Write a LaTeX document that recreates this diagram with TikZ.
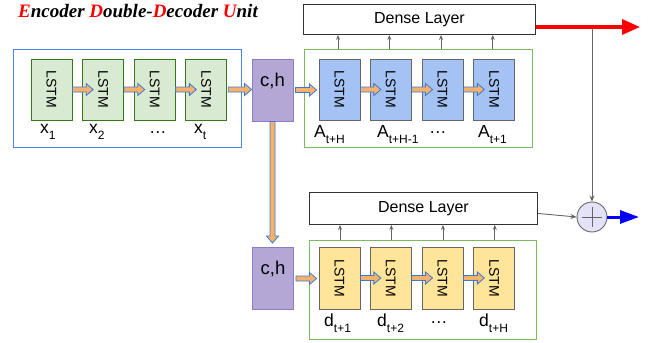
\documentclass[tikz,border=0pt]{standalone}
\usepackage{fontspec}
\setmainfont{Liberation Sans}
\newfontfamily\titlefont{Liberation Serif}
\usetikzlibrary{arrows.meta,calc}
\definecolor{encframe}{HTML}{4A86E8}
\definecolor{decframe}{HTML}{7DBA5F}
\definecolor{gfill}{HTML}{D9EAD3}
\definecolor{gdraw}{HTML}{38761D}
\definecolor{bfill}{HTML}{A4C2F4}
\definecolor{yfill}{HTML}{FFE599}
\definecolor{pfill}{HTML}{B4A7D6}
\definecolor{pdraw}{HTML}{8E7CC3}
\definecolor{arrfill}{HTML}{F6B26B}
\definecolor{arrdraw}{HTML}{3C78D8}
\definecolor{boxgray}{HTML}{666666}
\definecolor{pluscol}{HTML}{E4E2F6}
\newcommand{\fatR}[2]{%
  \draw[fatarrow] let \p1=(#1), \p2=(#2) in
    (\x1,\y1+2.5pt) -- (\x2-7pt,\y1+2.5pt) -- (\x2-7pt,\y1+6pt) -- (\x2,\y1)
    -- (\x2-7pt,\y1-6pt) -- (\x2-7pt,\y1-2.5pt) -- (\x1,\y1-2.5pt) -- cycle;}
\newcommand{\fatD}[2]{%
  \draw[fatarrow] let \p1=(#1), \p2=(#2) in
    (\x1+2.5pt,\y1) -- (\x1+2.5pt,\y2+7pt) -- (\x1+6pt,\y2+7pt) -- (\x1,\y2)
    -- (\x1-6pt,\y2+7pt) -- (\x1-2.5pt,\y2+7pt) -- (\x1-2.5pt,\y1) -- cycle;}
\newcommand{\lstmtext}{\rotatebox{-90}{\fontsize{14}{14}\selectfont LSTM}}
\newcommand{\sub}[1]{\raisebox{-6pt}{\fontsize{12}{12}\selectfont #1}}
\begin{document}
\begin{tikzpicture}[x=1pt,y=-1pt,
  framebox/.style={draw=#1, line width=1.1pt, inner sep=0pt},
  lstmbox/.style={draw=#1, line width=0.9pt, minimum width=41pt, minimum height=61pt, inner sep=0pt},
  chbox/.style={draw=pdraw, fill=pfill, line width=0.9pt, minimum width=41pt, minimum height=62pt, inner sep=0pt},
  densebox/.style={draw=black!80, line width=0.9pt, inner sep=0pt, font=\fontsize{16}{16}\selectfont},
  lbl/.style={anchor=base west, inner sep=0pt, font=\fontsize{17.5}{17.5}\selectfont},
  fatarrow/.style={draw=arrdraw, fill=arrfill, line width=0.8pt, line join=miter},
  smallarr/.style={draw=boxgray, line width=0.8pt, -{Stealth[length=5pt,width=4pt]}},
  grayarr/.style={draw=boxgray, line width=0.9pt, -{Stealth[length=6pt,width=5pt]}},
]
\useasboundingbox (0,0) rectangle (654,343);

% title
\node[anchor=base west, inner sep=0pt, font=\titlefont\bfseries\itshape\fontsize{19}{19}\selectfont] (title) at (18,17)
  {{\color{red}E}ncoder {\color{red}D}ouble-{\color{red}D}ecoder {\color{red}U}nit};

% frames
\node[framebox=encframe, minimum width=228pt, minimum height=98pt, anchor=north west] (enc) at (13,49) {};
\node[framebox=decframe, minimum width=228pt, minimum height=98pt, anchor=north west] (dec1) at (304,49) {};
\node[framebox=decframe, minimum width=227pt, minimum height=99pt, anchor=north west] (dec2) at (309,240) {};

% dense layers
\node[densebox, minimum width=232pt, minimum height=30pt, anchor=north west] (dense1) at (303,4) {Dense Layer};
\node[densebox, minimum width=228pt, minimum height=32pt, anchor=north west] (dense2) at (309,192) {Dense Layer};

% encoder LSTMs
\node[lstmbox=gdraw, fill=gfill] (e1) at (51.5,89.5) {\lstmtext};
\node[lstmbox=gdraw, fill=gfill] (e2) at (103.1,89.5) {\lstmtext};
\node[lstmbox=gdraw, fill=gfill] (e3) at (154.7,89.5) {\lstmtext};
\node[lstmbox=gdraw, fill=gfill] (e4) at (206.3,89.5) {\lstmtext};

% decoder 1 LSTMs
\node[lstmbox=boxgray, fill=bfill] (a1) at (339.5,89.5) {\lstmtext};
\node[lstmbox=boxgray, fill=bfill] (a2) at (390.8,89.5) {\lstmtext};
\node[lstmbox=boxgray, fill=bfill] (a3) at (442.5,89.5) {\lstmtext};
\node[lstmbox=boxgray, fill=bfill] (a4) at (494.3,89.5) {\lstmtext};

% decoder 2 LSTMs
\node[lstmbox=boxgray, fill=yfill, minimum height=62pt] (d1) at (339.5,278) {\lstmtext};
\node[lstmbox=boxgray, fill=yfill, minimum height=62pt] (d2) at (390.8,278) {\lstmtext};
\node[lstmbox=boxgray, fill=yfill, minimum height=62pt] (d3) at (442.5,278) {\lstmtext};
\node[lstmbox=boxgray, fill=yfill, minimum height=62pt] (d4) at (494.3,278) {\lstmtext};

% c,h boxes
\node[chbox] (ch1) at (272.5,90) {};
\node[font=\fontsize{18.5}{18.5}\selectfont, inner sep=0pt] (ch1t) at (272.5,81) {c,h};
\node[chbox] (ch2) at (273,278.5) {};
\node[font=\fontsize{18.5}{18.5}\selectfont, inner sep=0pt] (ch2t) at (273,269) {c,h};

% labels
\node[lbl] (lx1) at (40,133) {x\sub{1}};
\node[lbl] (lx2) at (89,133) {x\sub{2}};
\node[lbl] (lx3) at (149,133) {\dots};
\node[lbl] (lx4) at (194,133) {x\sub{t}};
\node[lbl] (la1) at (314,137) {A\sub{t+H}};
\node[lbl] (la2) at (377,137) {A\sub{t+H-1}};
\node[lbl] (la3) at (429,133) {\dots};
\node[lbl] (la4) at (478,137) {A\sub{t+1}};
\node[lbl] (ld1) at (324,326) {d\sub{t+1}};
\node[lbl] (ld2) at (377,326) {d\sub{t+2}};
\node[lbl] (ld3) at (430,323) {\dots};
\node[lbl] (ld4) at (479,326) {d\sub{t+H}};

% fat arrows
\fatR{e1.east}{$(e2.west)+(11,0)$}
\fatR{e2.east}{$(e3.west)+(11,0)$}
\fatR{e3.east}{$(e4.west)+(11,0)$}
\fatR{$(e4.east)+(1,0)$}{ch1.west}
\fatR{$(ch1.east)+(2,0)$}{$(a1.west)+(-2,0)$}
\fatR{a1.east}{$(a2.west)+(11,0)$}
\fatR{a2.east}{$(a3.west)+(11,0)$}
\fatR{a3.east}{$(a4.west)+(11,0)$}
\fatR{$(ch2.east)+(2,0)$}{$(d1.west)+(-2,0)$}
\fatR{d1.east}{$(d2.west)+(11,0)$}
\fatR{d2.east}{$(d3.west)+(11,0)$}
\fatR{d3.east}{$(d4.west)+(11,0)$}
\fatD{ch1.south}{$(ch2.north)+(0,-4)$}

% small arrows to dense layers
\foreach \n in {a1,a2,a3,a4} {
  \draw[smallarr] ($(\n |- dec1.north)+(-1.5,0)$) -- ($(\n |- dense1.south)+(-1.5,0)$);
}
\foreach \n in {d1,d2,d3,d4} {
  \draw[smallarr] ($(\n |- dec2.north)+(0.5,0)$) -- ($(\n |- dense2.south)+(0.5,0)$);
}

% plus node
\node[circle, draw=boxgray, fill=pluscol, line width=0.9pt, minimum size=30pt, inner sep=0pt,
  path picture={\draw[boxgray, line width=0.9pt] ($(path picture bounding box.center)+(-10,0)$) -- ($(path picture bounding box.center)+(10,0)$)
     ($(path picture bounding box.center)+(0,-10)$) -- ($(path picture bounding box.center)+(0,10)$);}] (plus) at (592,217) {};

% outputs
\coordinate (redstart) at (dense1.east |- 0,27);
\coordinate (redend) at (640,27);
\coordinate (tap) at (plus.north |- 0,27);
\coordinate (blueend) at (639,217);
\draw[grayarr] (tap) -- (plus.north);
\draw[grayarr] ($(dense2.east)+(0,5)$) -- (plus.west);
\draw[red, line width=3.5pt, -{Triangle[length=18pt,width=15pt]}] (redstart) -- (redend);
\draw[blue, line width=3pt, -{Triangle[length=19pt,width=13pt]}] (plus.east) -- (blueend);
\end{tikzpicture}
\end{document}
